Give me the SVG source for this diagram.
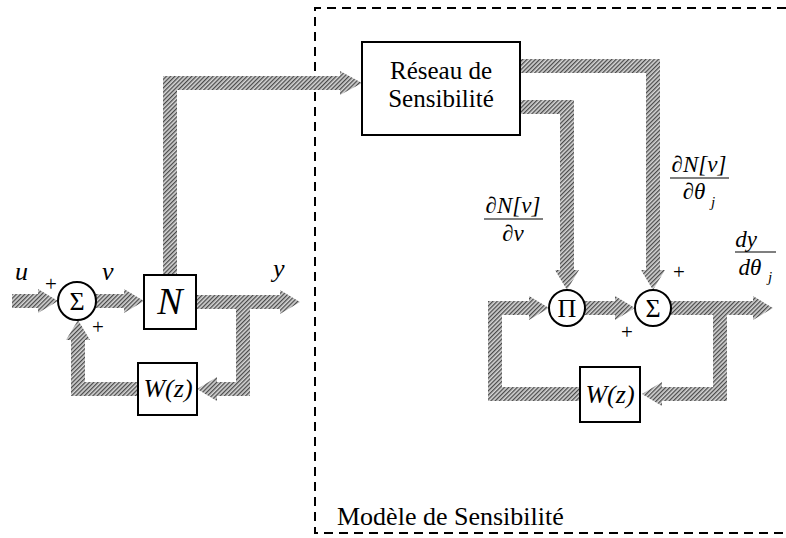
<svg xmlns="http://www.w3.org/2000/svg" width="786" height="538" viewBox="0 0 786 538">
  <defs>
    <!-- fine diagonal hatch used for the broad signal arrows -->
    <pattern id="hatch" patternUnits="userSpaceOnUse" width="3" height="3" patternTransform="rotate(45)">
      <rect width="3" height="3" fill="#d6d6d6"/>
      <rect width="1.3" height="3" fill="#4a4a4a"/>
    </pattern>
    <style>
      .band { fill: none; stroke: url(#hatch); stroke-width: 14; stroke-linejoin: miter; stroke-linecap: butt; }
      .head { fill: url(#hatch); stroke: none; }
      .box { fill: #fff; stroke: #000; stroke-width: 2; }
      .frame { fill: none; stroke: #000; stroke-width: 2; stroke-dasharray: 9 6; }
      .fr { stroke: #000; stroke-width: 1.2; }
      text { font-family: Liberation Serif, Times New Roman, Tinos, Times, Noto Serif, DejaVu Serif, serif; fill: #000; }
      .it { font-style: italic; }
      .op { font-size: 26px; text-anchor: middle; }
    </style>
  </defs>

  <!-- sensitivity model frame -->
  <path class="frame" d="M786,8 H315 V533 H786"/>
  <text x="337" y="525" font-size="26">Modèle de Sensibilité</text>

  <g id="connectors">
    <!-- input u -->
    <path class="band" d="M12,301 H40"/>
    <polygon class="head" points="38,289 58,301 38,313"/>
    <!-- v to N -->
    <path class="band" d="M96,301 H126"/>
    <polygon class="head" points="124,289 144,301 124,313"/>
    <!-- N to sensitivity network -->
    <path class="band" d="M170,275 V83 H342"/>
    <polygon class="head" points="340,71 362,83 340,95"/>
    <!-- output y -->
    <path class="band" d="M196,302 H282"/>
    <polygon class="head" points="280,290 300,302 280,314"/>
    <!-- feedback into W(z) -->
    <path class="band" d="M243,302 V389 H215"/>
    <polygon class="head" points="217,377 197,389 217,401"/>
    <!-- W(z) back to summer -->
    <path class="band" d="M138,389 H78 V338"/>
    <polygon class="head" points="66,340 78,320 90,340"/>

    <!-- dN/dtheta to right summer -->
    <path class="band" d="M520,66 H653 V272"/>
    <polygon class="head" points="641,270 653,290 665,270"/>
    <!-- dN/dv to product -->
    <path class="band" d="M520,107 H567 V272"/>
    <polygon class="head" points="555,270 567,290 579,270"/>
    <!-- product to summer -->
    <path class="band" d="M585,308 H617"/>
    <polygon class="head" points="615,296 635,308 615,320"/>
    <!-- output dy/dtheta -->
    <path class="band" d="M671,308 H755"/>
    <polygon class="head" points="753,296 773,308 753,320"/>
    <!-- feedback into W(z) -->
    <path class="band" d="M720,308 V394 H660"/>
    <polygon class="head" points="662,382 642,394 662,406"/>
    <!-- W(z) back to product -->
    <path class="band" d="M580,394 H495 V308 H531"/>
    <polygon class="head" points="529,296 549,308 529,320"/>
  </g>

  <!-- left loop -->
  <g id="sum1">
    <circle class="box" cx="77" cy="301" r="19"/>
    <text class="op" x="77" y="310">Σ</text>
  </g>
  <g id="N">
    <rect class="box" x="144" y="275" width="52" height="54"/>
    <text class="it" x="170" y="314" font-size="38" text-anchor="middle">N</text>
  </g>
  <g id="W1">
    <rect class="box" x="138" y="363" width="59" height="52"/>
    <text class="it" x="168" y="397" font-size="26" text-anchor="middle">W(z)</text>
  </g>

  <!-- sensitivity network -->
  <g id="reseau">
    <rect class="box" x="362" y="42" width="158" height="93"/>
    <text x="441" y="79" font-size="25" text-anchor="middle">Réseau de</text>
    <text x="441" y="107" font-size="25" text-anchor="middle">Sensibilité</text>
  </g>

  <!-- right loop -->
  <g id="prod">
    <circle class="box" cx="567" cy="308" r="18"/>
    <text class="op" x="567" y="317">Π</text>
  </g>
  <g id="sum2">
    <circle class="box" cx="653" cy="308" r="18"/>
    <text class="op" x="653" y="317">Σ</text>
  </g>
  <g id="W2">
    <rect class="box" x="580" y="367" width="60" height="55"/>
    <text class="it" x="610" y="403" font-size="26" text-anchor="middle">W(z)</text>
  </g>

  <!-- signal labels -->
  <g id="labels">
    <text class="it" x="15" y="280" font-size="26">u</text>
    <text x="51" y="291" font-size="21" text-anchor="middle">+</text>
    <text class="it" x="102" y="280" font-size="26">v</text>
    <text x="98" y="334" font-size="21" text-anchor="middle">+</text>
    <text class="it" x="273" y="277" font-size="26">y</text>

    <text x="679" y="279" font-size="21" text-anchor="middle">+</text>
    <text x="627" y="339" font-size="21" text-anchor="middle">+</text>

    <!-- dN[v]/dv -->
    <text class="it" x="513" y="213" font-size="23" text-anchor="middle">∂N[v]</text>
    <line class="fr" x1="484" y1="219" x2="543" y2="219"/>
    <text class="it" x="513" y="241" font-size="23" text-anchor="middle">∂v</text>

    <!-- dN[v]/dtheta_j -->
    <text class="it" x="699" y="172" font-size="23" text-anchor="middle">∂N[v]</text>
    <line class="fr" x1="670" y1="178" x2="729" y2="178"/>
    <text class="it" x="694" y="199" font-size="23" text-anchor="middle">∂θ</text>
    <text class="it" x="711" y="207" font-size="15">j</text>

    <!-- dy/dtheta_j -->
    <text class="it" x="746" y="247" font-size="23" text-anchor="middle">dy</text>
    <line class="fr" x1="735" y1="252" x2="776" y2="252"/>
    <text class="it" x="750" y="275" font-size="23" text-anchor="middle">dθ</text>
    <text class="it" x="768" y="282" font-size="15">j</text>
  </g>
</svg>
